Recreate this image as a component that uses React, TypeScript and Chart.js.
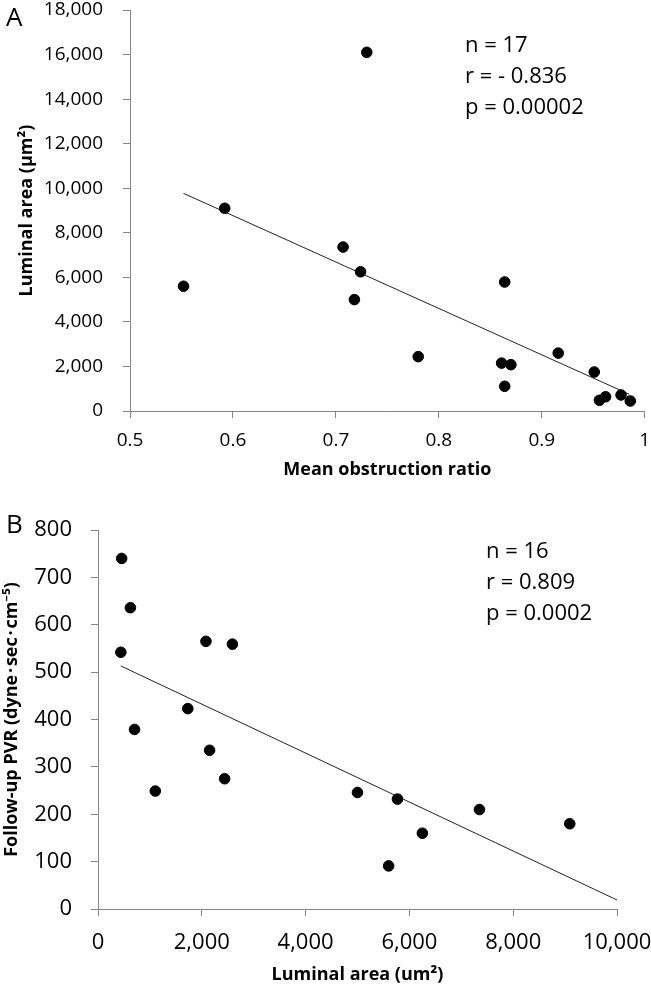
import { useEffect, useRef } from 'react';
import { Chart, registerables } from 'chart.js';

Chart.register(...registerables);

// ---------- Panel A data ----------
const obstructionRatio = [0.552, 0.592, 0.707, 0.718, 0.724, 0.730, 0.780, 0.861, 0.864, 0.864, 0.870, 0.916, 0.951, 0.956, 0.962, 0.977, 0.986];
const luminalAreaA = [5600, 9100, 7360, 5000, 6250, 16100, 2440, 2150, 5790, 1110, 2080, 2600, 1750, 480, 640, 720, 450];
const trendAX = [0.552, 0.985];
const trendAY = [9770, 750];
const statsA = ['n = 17', 'r = - 0.836', 'p = 0.00002'];

// ---------- Panel B data ----------
const luminalAreaB = [456, 624, 440, 2080, 2590, 1730, 704, 2150, 2440, 1104, 5000, 5770, 7350, 6250, 9090, 5600];
const followUpPVR = [740, 636, 542, 565, 559, 423, 379, 335, 275, 249, 246, 232, 210, 160, 180, 91];
const trendBX = [440, 10000];
const trendBY = [513, 19];
const statsB = ['n = 16', 'r = 0.809', 'p = 0.0002'];

const FONT = '"Open Sans", "Noto Sans", sans-serif';
const AXIS = '#868686';

function pts(xs: number[], ys: number[]) {
  return xs.map((x, i) => ({ x, y: ys[i] }));
}

function textPlugin(panel: string, panelY: number, lines: string[], lx: number, ly: number) {
  return {
    id: 'panelTexts',
    afterDraw(chart: any) {
      const ctx = chart.ctx as CanvasRenderingContext2D;
      ctx.save();
      ctx.fillStyle = '#000';
      ctx.textAlign = 'left';
      ctx.textBaseline = 'alphabetic';
      ctx.font = `26px ${FONT}`;
      ctx.fillText(panel, 6, panelY);
      ctx.font = `22px ${FONT}`;
      ctx.textBaseline = 'middle';
      lines.forEach((t, i) => ctx.fillText(t, lx, ly + i * 31));
      ctx.restore();
    },
  };
}

function makeConfig(p: any): any {
  const xTicks: any = {
    stepSize: p.xStep,
    autoSkip: false,
    maxRotation: 0,
    color: '#000',
    padding: p.xTickPad,
    font: { family: FONT, size: p.tickSize },
  };
  if (p.xFormat) xTicks.callback = p.xFormat;
  return {
    type: 'scatter',
    data: {
      datasets: [
        {
          type: 'scatter',
          data: p.points,
          backgroundColor: '#000',
          borderColor: '#000',
          pointRadius: 5.3,
          pointHoverRadius: 5.3,
        },
        {
          type: 'line',
          data: p.trend,
          borderColor: '#222',
          borderWidth: 1,
          pointRadius: 0,
          fill: false,
          tension: 0,
        },
      ],
    },
    options: {
      animation: false,
      responsive: false,
      events: [],
      layout: { padding: { left: 0, right: p.padRight, top: p.padTop, bottom: 0 } },
      plugins: { legend: { display: false }, tooltip: { enabled: false } },
      scales: {
        x: {
          type: 'linear',
          min: p.xMin,
          max: p.xMax,
          ticks: xTicks,
          grid: { drawOnChartArea: false, tickLength: 7, color: AXIS },
          border: { color: AXIS, width: 1 },
          title: {
            display: true,
            text: p.xTitle,
            color: '#000',
            font: { family: FONT, size: 18, weight: 'bold' },
            padding: { top: 0, bottom: p.xTitlePad },
          },
          afterFit: (s: any) => {
            s.height = p.xAxisH;
            s.paddingLeft = 0;
            s.paddingRight = 0;
          },
        },
        y: {
          type: 'linear',
          min: p.yMin,
          max: p.yMax,
          ticks: {
            stepSize: p.yStep,
            autoSkip: false,
            color: '#000',
            padding: p.yTickPad,
            font: { family: FONT, size: p.tickSize },
          },
          grid: { drawOnChartArea: false, tickLength: 7, color: AXIS },
          border: { color: AXIS, width: 1 },
          title: {
            display: true,
            text: p.yTitle,
            color: '#000',
            font: { family: FONT, size: 18, weight: 'bold' },
            padding: { top: p.yTitlePad, bottom: 0 },
          },
          afterFit: (s: any) => {
            s.width = p.yAxisW;
            s.paddingTop = 0;
            s.paddingBottom = 0;
          },
        },
      },
    },
    plugins: [textPlugin(p.panel, p.panelY, p.stats, p.statX, p.statY)],
  };
}

const configA = () =>
  makeConfig({
    points: pts(obstructionRatio, luminalAreaA),
    trend: pts(trendAX, trendAY),
    padRight: 5,
    padTop: 10,
    xMin: 0.5,
    xMax: 1,
    xStep: 0.1,
    xFormat: (v: number) => String(Number(v.toFixed(1))),
    yMin: 0,
    yMax: 18000,
    yStep: 2000,
    tickSize: 19,
    xTickPad: 11,
    yTickPad: 20,
    xTitle: 'Mean obstruction ratio',
    yTitle: 'Luminal area (μm²)',
    xTitlePad: 9,
    yTitlePad: 16,
    xAxisH: 79,
    yAxisW: 130,
    panel: 'A',
    panelY: 26,
    stats: statsA,
    statX: 465,
    statY: 46,
  });

const configB = () =>
  makeConfig({
    points: pts(luminalAreaB, followUpPVR),
    trend: pts(trendBX, trendBY),
    padRight: 34,
    padTop: 40,
    xMin: 0,
    xMax: 10000,
    xStep: 2000,
    yMin: 0,
    yMax: 800,
    yStep: 100,
    tickSize: 22,
    xTickPad: 14,
    yTickPad: 19,
    xTitle: 'Luminal area (um²)',
    yTitle: 'Follow-up PVR (dyne\u200A·\u200Asec\u200A·\u200Acm⁻⁵)',
    xTitlePad: 1,
    yTitlePad: 1,
    xAxisH: 78,
    yAxisW: 98,
    panel: 'B',
    panelY: 43,
    stats: statsB,
    statX: 486,
    statY: 62,
  });

export default function App() {
  const refA = useRef<HTMLCanvasElement>(null);
  const refB = useRef<HTMLCanvasElement>(null);

  useEffect(() => {
    let cancelled = false;
    const charts: Chart[] = [];
    const build = () => {
      if (cancelled || !refA.current || !refB.current) return;
      charts.push(new Chart(refA.current, configA()));
      charts.push(new Chart(refB.current, configB()));
    };
    const fonts: any = (document as any).fonts;
    if (fonts && fonts.load) {
      Promise.all([
        fonts.load('19px "Open Sans"'),
        fonts.load('bold 18px "Open Sans"'),
      ]).then(build, build);
    } else {
      build();
    }
    return () => {
      cancelled = true;
      charts.forEach((c) => c.destroy());
    };
  }, []);

  return (
    <div style={{ position: 'absolute', left: 0, top: 0, width: 651, height: 987, background: '#fff' }}>
      <canvas ref={refA} width={651} height={490} style={{ display: 'block' }} />
      <canvas ref={refB} width={651} height={497} style={{ display: 'block' }} />
    </div>
  );
}
